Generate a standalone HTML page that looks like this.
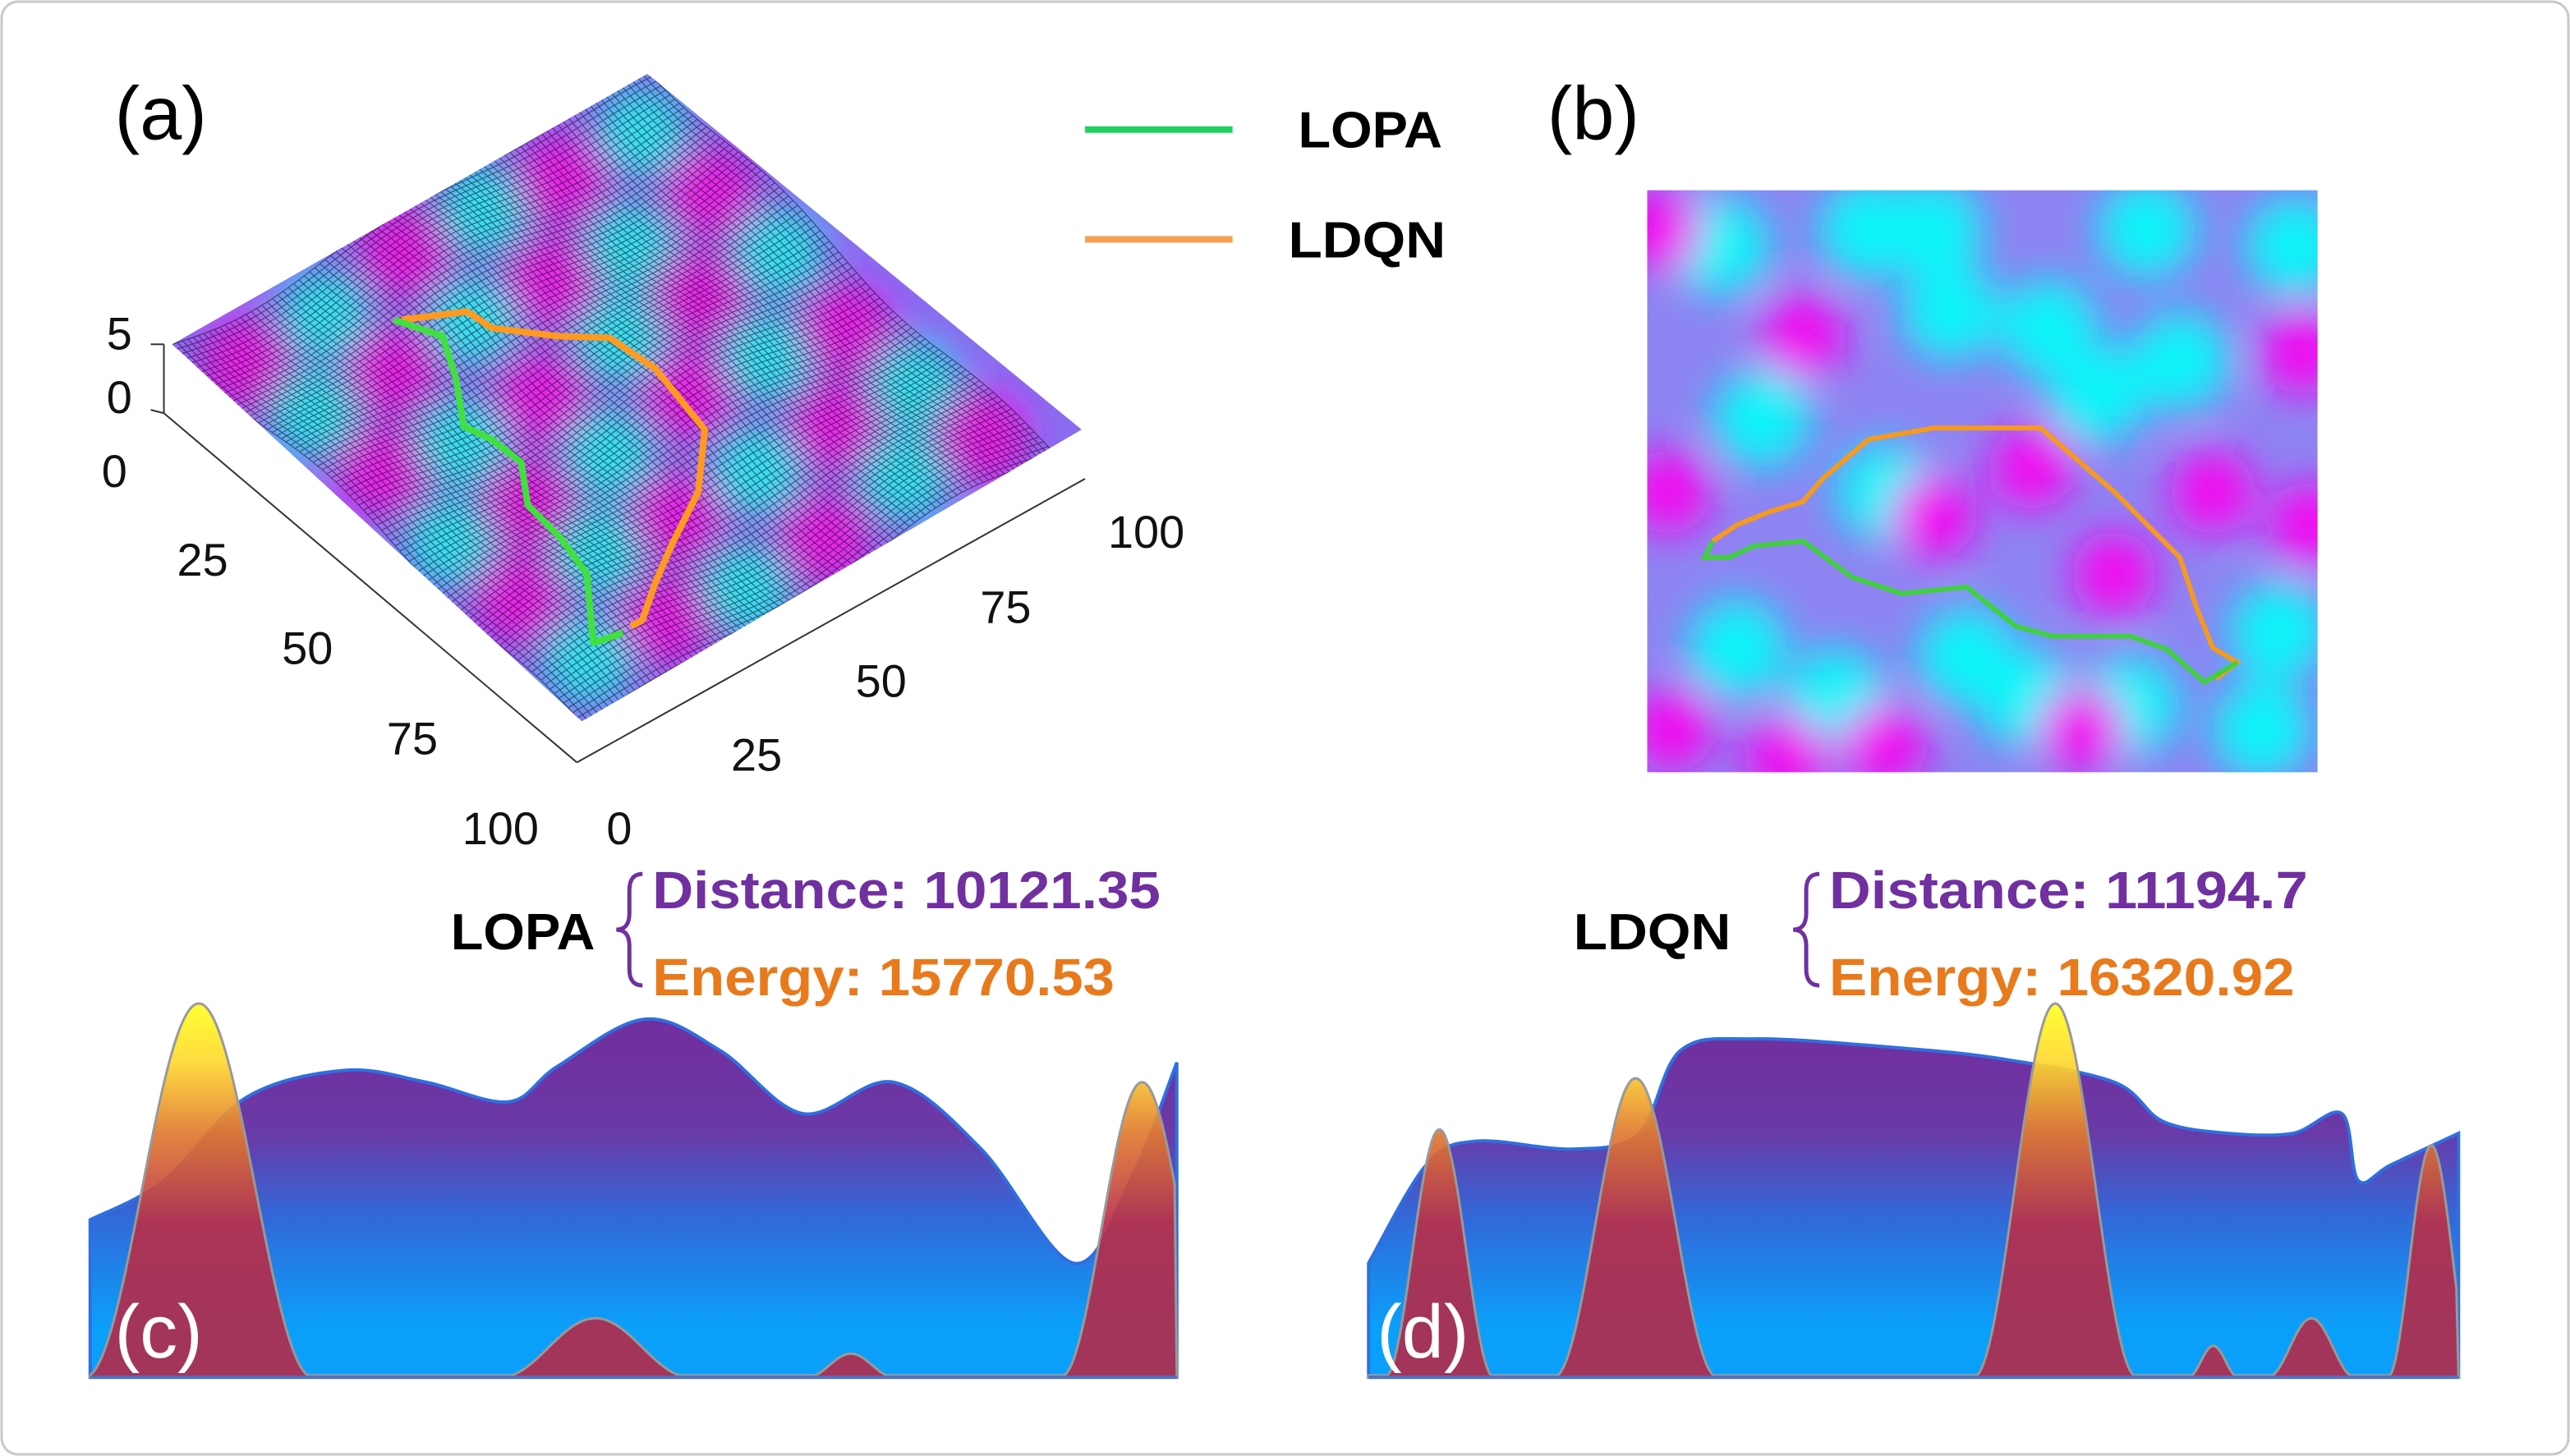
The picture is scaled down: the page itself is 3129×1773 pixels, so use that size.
<!DOCTYPE html>
<html><head><meta charset="utf-8"><style>
html,body{margin:0;padding:0;background:#fff;}
svg{display:block;}
text{font-family:"Liberation Sans",sans-serif;}
</style></head><body>
<svg id="fig" width="3129" height="1773" viewBox="0 0 1568 888" preserveAspectRatio="none" xmlns="http://www.w3.org/2000/svg">
<defs>
<filter id="blur8" x="-20%" y="-20%" width="140%" height="140%"><feGaussianBlur stdDeviation="10"/></filter>
<filter id="blur5" x="-20%" y="-20%" width="140%" height="140%"><feGaussianBlur stdDeviation="12"/></filter>
<clipPath id="clipB"><rect x="1005" y="116" width="409" height="355"/></clipPath>
<clipPath id="clipA"><polygon id="surfPoly" points="105,210 395,45 660,262 355,440"/></clipPath>
<linearGradient id="gPurple" gradientUnits="userSpaceOnUse" x1="0" y1="640" x2="0" y2="810">
<stop offset="0" stop-color="#7030a0"/><stop offset="0.3" stop-color="#6a3aa8"/><stop offset="0.6" stop-color="#3268d8"/><stop offset="1" stop-color="#0aa0fa"/></linearGradient>
<linearGradient id="gRed" gradientUnits="userSpaceOnUse" x1="0" y1="612" x2="0" y2="790">
<stop offset="0" stop-color="#ffff20"/><stop offset="0.2" stop-color="#ffd830"/><stop offset="0.45" stop-color="#e07830"/><stop offset="0.75" stop-color="#b8304a"/><stop offset="1" stop-color="#b02c4c"/></linearGradient>
</defs>
<rect x="1" y="1" width="1566" height="886" rx="10" fill="#fff" stroke="#c8c8c8" stroke-width="1.5"/>

<text x="70" y="85" font-size="46">(a)</text>
<g id="surf">
<g clip-path="url(#clipA)">
<polygon points="105,210 395,45 660,262 355,440" fill="#8a6cf0"/>
<g id="surfBlobs" filter="url(#blur8)"></g>
<g id="surfMesh"></g>
</g>
</g>
<g stroke="#333" stroke-width="1" fill="none">
<line x1="100" y1="210" x2="100" y2="252"/>
<line x1="100" y1="252" x2="352" y2="465"/>
<line x1="352" y1="465" x2="662" y2="292"/>
<line x1="92" y1="210" x2="100" y2="210"/><line x1="92" y1="250" x2="100" y2="252"/>
</g>
<g font-size="28" fill="#111">
<text x="65" y="213">5</text><text x="65" y="252">0</text>
<text x="62" y="297">0</text><text x="108" y="351">25</text><text x="172" y="405">50</text><text x="236" y="460">75</text><text x="282" y="515">100</text>
<text x="370" y="515">0</text><text x="446" y="470">25</text><text x="522" y="425">50</text><text x="598" y="380">75</text><text x="676" y="334">100</text>
</g>
<polyline fill="none" stroke="#ff9a20" stroke-width="4" stroke-linejoin="round" points="245,195 285,190 300,200 340,205 372,206 400,225 430,262 426,300 410,332 400,355 392,378 385,382"/>
<polyline fill="none" stroke="#40e040" stroke-width="4" stroke-linejoin="round" points="240,195 270,205 278,230 283,260 300,268 318,282 322,308 342,328 358,350 362,392 380,386"/>

<g>
<line x1="662" y1="79" x2="752" y2="79" stroke="#20d060" stroke-width="4"/>
<text x="792" y="90" font-size="31" font-weight="bold" textLength="88" lengthAdjust="spacingAndGlyphs">LOPA</text>
<line x1="662" y1="146" x2="752" y2="146" stroke="#f5a050" stroke-width="4"/>
<text x="786" y="157" font-size="31" font-weight="bold" textLength="96" lengthAdjust="spacingAndGlyphs">LDQN</text>
</g>

<text x="944" y="85" font-size="46">(b)</text>
<g clip-path="url(#clipB)">
<rect x="1005" y="116" width="409" height="355" fill="#8e84f2"/>
<g id="heatBlobs" filter="url(#blur5)"></g>
</g>
<polyline fill="none" stroke="#f59a20" stroke-width="3" points="1045,330 1060,320 1080,312 1100,306 1112,292 1140,268 1180,261 1245,261 1290,300 1330,340 1340,370 1350,395 1365,404 1352,414"/>
<polyline fill="none" stroke="#40d040" stroke-width="3" points="1045,330 1040,340 1055,340 1070,333 1100,330 1130,352 1160,362 1200,358 1230,382 1252,388 1300,388 1322,396 1345,416 1365,404"/>

<g>
<text x="275" y="579" font-size="31" font-weight="bold" textLength="88" lengthAdjust="spacingAndGlyphs">LOPA</text>
<path d="M392,533 q-8,0 -8,10 v14 q0,10 -8,10 q8,0 8,10 v14 q0,10 8,10" fill="none" stroke="#7030a0" stroke-width="2.5"/>
<text x="398" y="554" font-size="32" font-weight="bold" fill="#7030a0" textLength="310" lengthAdjust="spacingAndGlyphs">Distance: 10121.35</text>
<text x="398" y="607" font-size="32" font-weight="bold" fill="#e87a1c" textLength="282" lengthAdjust="spacingAndGlyphs">Energy: 15770.53</text>
</g>
<g>
<text x="960" y="579" font-size="31" font-weight="bold" textLength="96" lengthAdjust="spacingAndGlyphs">LDQN</text>
<path d="M1110,533 q-8,0 -8,10 v14 q0,10 -8,10 q8,0 8,10 v14 q0,10 8,10" fill="none" stroke="#7030a0" stroke-width="2.5"/>
<text x="1116" y="554" font-size="32" font-weight="bold" fill="#7030a0" textLength="292" lengthAdjust="spacingAndGlyphs">Distance: 11194.7</text>
<text x="1116" y="607" font-size="32" font-weight="bold" fill="#e87a1c" textLength="284" lengthAdjust="spacingAndGlyphs">Energy: 16320.92</text>
</g>

<g id="chartC"></g>
<g id="chartD"></g>
<text x="70" y="828" font-size="46" fill="#fff">(c)</text>
<text x="840" y="828" font-size="46" fill="#fff">(d)</text>
</svg>
<script>
// ---- chart data (c) ----
const cX = [0,6.8,14.3,23.4,30.9,38.5,43,51,58,65.6,73.9,82,90.5,95.7,100];
const cDist = [40,50,71,78,75,70,79,91,83,67,75,58,29,50,80];
const cPeakCenters = [10,46.5,70,96.8];
const cPeakHeights = [95,15,6,75];
const cPeakWidths = [10.5,8.7,4,7.5];
// ---- chart data (d) ----
const dX = [0,5.3,9.8,18.8,24.8,28.6,35.3,47.4,57.9,68.4,72.9,78.9,84.8,89.3,90.8,93.8,100];
const dDist = [29,54,60,58,62,83,86,84,81,75,65,62,62,67,50,54,62];
const dPeakCenters = [6.5,24.5,63,77.5,86.5,97.5];
const dPeakHeights = [63,76,95,8,15,59];
const dPeakWidths = [5,7.5,7.5,2.3,4,4];

const NS="http://www.w3.org/2000/svg";
function mk(tag,attrs,parent){const e=document.createElementNS(NS,tag);for(const k in attrs)e.setAttribute(k,attrs[k]);parent.appendChild(e);return e;}
function smoothPath(pts){let d="M"+pts[0][0]+","+pts[0][1];for(let i=0;i<pts.length-1;i++){const p0=pts[Math.max(0,i-1)],p1=pts[i],p2=pts[i+1],p3=pts[Math.min(pts.length-1,i+2)];
const c1=[p1[0]+(p2[0]-p0[0])/6,p1[1]+(p2[1]-p0[1])/6],c2=[p2[0]-(p3[0]-p1[0])/6,p2[1]-(p3[1]-p1[1])/6];d+=" C"+c1+" "+c2+" "+p2;}return d;}
function drawChart(gid,x0,x1,xs,vals,pc,ph,pw,nameA,nameB){
  const g=document.getElementById(gid);
  const base=840, sx=v=>x0+(x1-x0)*v/100, sy=v=>base-2.4*v;
  const pts=xs.map((x,i)=>[sx(x),sy(vals[i])]);
  const d=smoothPath(pts)+" L"+sx(100)+","+base+" L"+sx(0)+","+base+" Z";
  const a=mk('path',{d:d,fill:'url(#gPurple)',stroke:'#2f6fe0','stroke-width':2},g);
  
  
  const rp=[];
  for(let t=0;t<=100;t+=0.2){let v=0;for(let k=0;k<pc.length;k++){const z=(t-pc[k])/pw[k];if(Math.abs(z)<1){const c=Math.cos(Math.PI/2*z);v+=ph[k]*c*c;}}rp.push([sx(t).toFixed(2),sy(Math.max(v,0.5)).toFixed(2)]);}
  const r=mk('path',{d:"M"+sx(0)+","+base+" L"+rp.map(p=>p.join(",")).join(" L")+" L"+sx(100)+","+base+" Z",fill:'url(#gRed)','fill-opacity':0.92,stroke:'#999','stroke-width':1.5},g);
  
  
  mk('line',{x1:sx(0),y1:base,x2:sx(100),y2:base,stroke:'#5070c0','stroke-width':2},g);
}
drawChart('chartC',55,718,cX,cDist,cPeakCenters,cPeakHeights,cPeakWidths,'distance-area-c','energy-area-c');
drawChart('chartD',835,1500,dX,dDist,dPeakCenters,dPeakHeights,dPeakWidths,'distance-area-d','energy-area-d');

const hb=document.getElementById('heatBlobs');
const cyan=[[1050,150],[1140,140],[1250,200],[1310,140],[1400,150],[1075,255],[1150,300],[1200,400],[1390,385],[1120,425],[1300,430],[1380,445],[1060,395],[1235,425],[1330,220],[1190,190],[1180,140],[1280,240]];
const mag=[[1012,140],[1018,300],[1180,315],[1240,285],[1290,350],[1020,445],[1090,462],[1270,445],[1405,215],[1100,205],[1350,300],[1150,455],[1410,320]];
cyan.forEach(p=>mk('circle',{cx:p[0],cy:p[1],r:30,fill:'#10f4f8'},hb));
mag.forEach(p=>mk('circle',{cx:p[0],cy:p[1],r:26,fill:'#f010f0'},hb));

const L=[105,210],T=[395,45],F=[355,440];
function P(u,v){const w=8*Math.sin(u*9+v*4)*Math.cos(v*8-u*2);return [L[0]+u*(T[0]-L[0])+v*(F[0]-L[0]),L[1]+u*(T[1]-L[1])+v*(F[1]-L[1])+w];}
const sb=document.getElementById('surfBlobs');
for(let i=0;i<6;i++)for(let j=0;j<6;j++){const p=P((i+0.5)/6,(j+0.5)/6);const c=((i+j)%2===0)?'#f020e8':'#30e8f0';mk('circle',{cx:p[0],cy:p[1],r:28,fill:c,opacity:0.9},sb);}
const sm=document.getElementById('surfMesh');
let md="";
for(let i=0;i<=90;i++){const u=i/90;let s="";for(let j=0;j<=30;j++){const p=P(u,j/30);s+=(j?"L":"M")+p[0].toFixed(1)+","+p[1].toFixed(1);}md+=s;}
for(let j=0;j<=90;j++){const v=j/90;let s="";for(let i=0;i<=30;i++){const p=P(i/30,v);s+=(i?"L":"M")+p[0].toFixed(1)+","+p[1].toFixed(1);}md+=s;}
mk('path',{d:md,fill:'none',stroke:'#000','stroke-opacity':0.5,'stroke-width':0.6},sm);
</script>
</body></html>
